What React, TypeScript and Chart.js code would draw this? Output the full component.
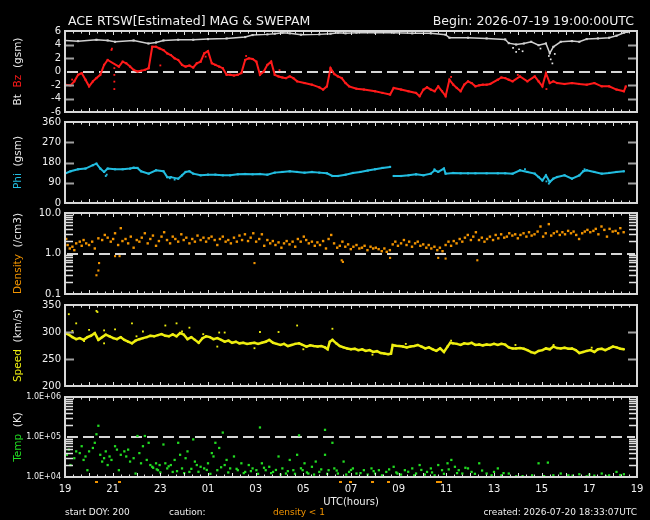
import React, { useEffect, useRef } from 'react';
import { Chart, registerables } from 'chart.js';
Chart.register(...registerables);

type P = [number, number | null];

const FONT = '"DejaVu Sans", "Liberation Sans", sans-serif';

// ---------- texts ----------
const titleText = 'ACE RTSW[Estimated] MAG & SWEPAM';
const beginText = 'Begin: 2026-07-19 19:00:00UTC';
const xTickLabels = ['19', '21', '23', '01', '03', '05', '07', '09', '11', '13', '15', '17', '19'];
const xAxisTitle = 'UTC(hours)';
const footerStart = 'start DOY: 200';
const footerCaution = 'caution:';
const footerDensity = 'density < 1';
const footerCreated = 'created: 2026-07-20 18:33:07UTC';

// ---------- tick values / labels ----------
const bTicks = [-6, -4, -2, 0, 2, 4, 6];
const phiTicks = [0, 90, 180, 270, 360];
const densityTicks = [0.1, 1, 10];
const densityTickLabels = ['0.1', '1.0', '10.0'];
const speedTicks = [200, 250, 300, 350];
const tempTicks = [1e4, 1e5, 1e6];
const tempTickLabels = ['1.0E+04', '1.0E+05', '1.0E+06'];

// ---------- data (hours since 19:00 UTC, value) ----------
const btData: P[] = [
  [0, 4.6], [0.55, 4.5], [1.32, 4.7], [1.79, 4.6], [2.1, 4.4], [2.88, 4.6], [3.5, 4.15], [3.82, 4.3],
  [4.13, 4.6], [4.75, 4.7], [5.38, 4.7], [6.0, 4.8], [6.78, 4.9], [7.56, 5.1], [7.87, 5.4], [8.49, 5.5],
  [8.8, 5.6], [9.12, 5.75], [9.43, 5.65], [9.9, 5.45], [10.67, 5.5], [11.14, 5.6], [11.45, 5.75],
  [11.77, 5.65], [12.23, 5.75], [13.01, 5.75], [13.79, 5.75], [14.57, 5.65], [15.35, 5.65], [15.97, 5.45],
  [16.13, 5.0], [16.91, 5.0], [17.69, 4.9], [18.47, 4.75], [18.62, 4.2], [18.93, 4.0], [19.25, 4.15],
  [19.56, 4.4], [19.87, 3.9], [20.18, 4.15], [20.34, 2.7], [20.49, 3.65], [20.8, 4.4], [21.27, 4.5],
  [21.58, 4.4], [21.89, 4.8], [22.36, 4.9], [22.83, 5.0], [23.14, 5.3], [23.45, 5.75], [23.61, 5.85],
];
const btDrops: P[] = [
  [18.8, 3.5], [18.93, 2.9], [19.05, 3.3], [19.2, 3.0], [19.95, 3.4], [20.3, 2.3], [20.38, 1.8],
  [20.45, 1.2], [20.55, 2.6],
];
const bzData: P[] = [
  [0, -1.95], [0.23, -2.05], [0.39, -1.46], [0.55, -0.49], [0.7, -0.24], [0.86, -1.22], [1.01, -2.2],
  [1.17, -1.46], [1.32, -0.98], [1.48, -0.49], [1.64, 0.98], [1.79, 1.71], [2.26, 0.73], [2.42, 1.46],
  [2.57, 1.22], [2.73, 0.73], [2.88, 0.24], [3.04, 0], [3.19, 0.1], [3.35, 0.24], [3.51, 0.49],
  [3.66, 3.66], [3.82, 3.66], [3.97, 3.41], [4.13, 3.17], [4.29, 2.68], [4.44, 2.44], [4.6, 1.95],
  [4.75, 1.71], [4.91, 0.98], [5.06, 0.73], [5.22, 0.88], [5.38, 0.59], [5.53, 1.22], [5.69, 1.46],
  [5.84, 2.68], [6.0, 3.02], [6.16, 1.22], [6.31, 0.98], [6.47, 0.73], [6.62, 0.49], [6.78, -0.49],
  [6.93, -0.49], [7.09, -0.59], [7.25, -0.49], [7.4, -0.24], [7.56, 1.71], [7.71, 1.95], [7.87, 1.85],
  [8.03, 1.46], [8.18, -0.49], [8.34, 0], [8.49, 0.98], [8.65, 1.46], [8.8, -0.49], [8.96, -0.73],
  [9.12, -0.88], [9.27, -0.98], [9.43, -0.73], [9.58, -0.98], [9.74, -1.46], [10.05, -1.71],
  [10.36, -1.95], [10.67, -2.34], [10.83, -2.68], [10.99, -2.2], [11.14, 0.49], [11.3, -0.39],
  [11.45, -0.73], [11.61, -0.98], [11.77, -1.71], [11.92, -2.2], [12.23, -2.54], [12.54, -2.68],
  [13.01, -2.93], [13.32, -3.17], [13.64, -3.41], [13.79, -2.44], [14.1, -2.68], [14.41, -2.93],
  [14.73, -3.17], [14.88, -3.66], [15.04, -2.68], [15.19, -2.34], [15.35, -2.68], [15.51, -2.93],
  [15.66, -2.2], [15.82, -2.93], [15.97, -3.66], [16.13, -1.22], [16.29, -1.95], [16.44, -2.44],
  [16.6, -2.93], [16.75, -1.95], [16.91, -1.46], [17.06, -1.71], [17.22, -2.2], [17.38, -2.05],
  [17.53, -1.95], [17.69, -1.95], [17.84, -1.85], [18.16, -1.22], [18.31, -0.88], [18.47, -0.98],
  [18.62, -1.22], [18.78, -1.46], [19.09, -0.73], [19.4, -1.46], [19.71, -0.73], [19.87, -1.46],
  [20.03, -2.2], [20.18, -0.24], [20.34, -1.71], [20.49, -1.46], [20.65, -1.71], [20.96, -1.85],
  [21.27, -1.71], [21.58, -1.85], [21.89, -1.95], [22.21, -1.71], [22.52, -2.2], [22.83, -2.2],
  [23.14, -2.68], [23.45, -2.93], [23.53, -2.2],
];
const bzScatter: P[] = [
  [1.95, 3.2], [1.97, 3.4], [2.07, 0.5], [2.07, -0.5], [2.07, -1.5], [2.07, -2.6], [0.3, -1.2],
  [4.0, 0.9], [5.9, 2.2], [7.6, 2.3], [9.0, 0.2], [16.2, -0.8], [20.2, -2.6], [19.0, -0.5],
];
const phiData: P[] = [
  [0, 130.5], [0.23, 141], [0.55, 150], [0.86, 153], [1.17, 168], [1.32, 175], [1.48, 153], [1.64, 138],
  [1.79, 153], [2.1, 150], [2.42, 150], [2.73, 153], [2.88, 157], [3.04, 156], [3.19, 141], [3.51, 130.5],
  [3.82, 145.5], [4.13, 141], [4.29, 115], [4.44, 115], [4.75, 108], [4.91, 123], [5.06, 138], [5.22, 141],
  [5.38, 130.5], [5.69, 123], [6.0, 126], [6.31, 126], [6.62, 123], [6.93, 123], [7.25, 127.5], [7.56, 129],
  [7.87, 127.5], [8.18, 129], [8.49, 126], [8.8, 135], [9.12, 138], [9.43, 141], [9.74, 138], [10.05, 135],
  [10.36, 138], [10.67, 135], [10.99, 132], [11.22, 120], [11.45, 120], [11.77, 126], [12.08, 133.5],
  [12.39, 138], [12.7, 144], [13.01, 150], [13.32, 156], [13.64, 160.5], [13.7, null], [13.79, 120],
  [14.1, 120], [14.41, 123], [14.73, 127.5], [15.04, 123], [15.35, 130.5], [15.51, 145.5], [15.66, 138],
  [15.9, 153], [15.97, 130.5], [16.29, 133.5], [16.6, 132], [16.91, 132], [17.22, 132], [17.69, 132],
  [18.16, 132], [18.47, 132], [18.78, 130.5], [19.09, 145.5], [19.4, 138], [19.71, 130.5], [19.87, 115.5],
  [20.03, 100.5], [20.18, 123], [20.34, 93], [20.49, 108], [20.65, 115.5], [20.96, 123], [21.27, 108],
  [21.58, 123], [21.74, 141], [21.89, 145.5], [22.21, 138], [22.52, 130.5], [22.83, 133.5], [23.14, 138],
  [23.45, 141],
];
const phiScatter: P[] = [
  [1.71, 120], [1.75, 126], [4.4, 110], [4.6, 104], [15.5, 150], [19.3, 150], [20.2, 96], [20.3, 86],
  [21.8, 150],
];
const densityData: P[] = [
  [0.05, 2.28], [0.11, 1.62], [0.2, 1.33], [0.31, 1.47], [0.39, 1.21], [0.47, 1.78], [0.62, 1.96], [0.7, 1.55],
  [0.78, 2.15], [0.89, 1.78], [1.01, 1.62], [1.14, 1.96], [1.25, 1.33], [1.4, 2.37], [1.56, 2.15], [1.67, 2.87],
  [1.79, 2.46], [1.92, 1.96], [2.02, 2.28], [2.1, 3.16], [2.23, 1.62], [2.34, 4.22], [2.41, 2.03], [2.54, 2.28],
  [2.65, 1.78], [2.76, 2.61], [2.88, 1.39], [3.01, 2.15], [3.12, 1.96], [3.22, 2.46], [3.35, 3.16], [3.47, 1.78],
  [3.58, 2.28], [3.69, 2.77], [3.82, 1.55], [3.94, 2.03], [4.05, 2.61], [4.16, 3.35], [4.28, 2.15], [4.41, 1.78],
  [4.52, 2.61], [4.63, 2.28], [4.75, 1.96], [4.88, 2.98], [4.98, 2.15], [5.09, 2.46], [5.22, 1.78], [5.34, 2.28],
  [5.45, 1.96], [5.56, 2.77], [5.69, 2.15], [5.81, 2.46], [5.92, 1.96], [6.03, 2.37], [6.15, 2.61], [6.28, 2.15],
  [6.39, 1.62], [6.5, 2.28], [6.62, 2.61], [6.74, 1.96], [6.85, 2.15], [6.96, 1.78], [7.09, 2.46], [7.21, 1.96],
  [7.32, 2.77], [7.43, 2.15], [7.55, 2.98], [7.68, 2.03], [7.79, 2.46], [7.9, 3.16], [8.02, 1.96], [8.15, 2.28],
  [8.26, 2.98], [8.36, 1.55], [8.49, 2.15], [8.61, 1.78], [8.72, 2.03], [8.83, 1.62], [8.96, 1.88], [9.08, 1.39],
  [9.19, 1.78], [9.3, 2.03], [9.42, 1.68], [9.55, 1.96], [9.66, 1.47], [9.77, 2.28], [9.89, 1.96], [10.02, 2.61],
  [10.12, 2.15], [10.23, 1.78], [10.36, 1.96], [10.48, 1.55], [10.59, 1.88], [10.7, 1.62], [10.83, 2.03],
  [10.95, 1.33], [11.06, 2.28], [11.17, 2.87], [11.29, 1.78], [11.42, 1.39], [11.53, 1.55], [11.64, 1.96],
  [11.76, 1.47], [11.88, 1.68], [11.99, 1.28], [12.1, 1.47], [12.23, 1.62], [12.35, 1.33], [12.46, 1.39],
  [12.57, 1.55], [12.69, 1.21], [12.82, 1.47], [12.93, 1.33], [13.04, 1.39], [13.16, 1.28], [13.29, 1.14],
  [13.4, 1.33], [13.5, 1.1], [13.63, 1.21], [13.75, 1.68], [13.86, 1.96], [13.97, 1.55], [14.1, 1.78],
  [14.22, 2.15], [14.33, 1.62], [14.44, 1.96], [14.56, 1.47], [14.69, 1.78], [14.8, 1.96], [14.91, 1.55],
  [15.03, 1.68], [15.16, 1.39], [15.26, 1.62], [15.37, 1.33], [15.5, 1.47], [15.62, 1.21], [15.73, 1.39],
  [15.84, 1.14], [15.97, 1.62], [16.09, 1.96], [16.2, 1.55], [16.31, 2.03], [16.43, 1.78], [16.56, 2.28],
  [16.67, 1.96], [16.78, 2.46], [16.9, 2.87], [17.03, 2.15], [17.13, 2.61], [17.24, 3.35], [17.37, 2.15],
  [17.49, 2.46], [17.6, 1.96], [17.71, 2.28], [17.83, 2.61], [17.96, 2.15], [18.07, 2.87], [18.18, 2.37],
  [18.3, 2.98], [18.43, 2.46], [18.54, 2.61], [18.64, 3.16], [18.77, 2.77], [18.89, 2.98], [19.0, 2.37],
  [19.11, 2.87], [19.24, 3.16], [19.36, 2.61], [19.47, 3.35], [19.58, 2.77], [19.7, 2.98], [19.83, 3.48],
  [19.95, 4.64], [20.06, 2.61], [20.17, 3.16], [20.3, 5.31], [20.4, 2.77], [20.51, 3.16], [20.64, 3.48],
  [20.76, 2.87], [20.87, 3.35], [20.98, 2.98], [21.11, 3.62], [21.23, 3.16], [21.34, 3.48], [21.45, 2.87],
  [21.57, 2.28], [21.7, 3.16], [21.81, 3.48], [21.92, 3.83], [22.04, 3.35], [22.17, 3.62], [22.27, 4.06],
  [22.38, 2.98], [22.51, 4.64], [22.63, 3.83], [22.74, 2.61], [22.85, 4.06], [22.98, 3.48], [23.1, 3.62],
  [23.21, 3.16], [23.3, 4.22], [23.44, 3.35],
];
const densityLow: P[] = [
  [1.32, 0.29], [1.4, 0.38], [1.43, 0.58], [2.1, 0.86], [2.29, 0.86], [7.95, 0.58], [11.61, 0.68],
  [11.66, 0.62], [13.64, 0.78], [15.66, 0.78], [15.97, 0.75], [17.3, 0.68],
];
const lowDensityHours = [1.32, 2.25, 11.53, 11.95, 12.88, 13.55, 15.6, 15.73];
const speedData: P[] = [
  [0, 298], [0.16, 295], [0.31, 290.5], [0.47, 286.7], [0.62, 288.6], [0.78, 285.4], [0.94, 290.5], [1.09, 293],
  [1.25, 298], [1.4, 285.4], [1.56, 290.5], [1.71, 295], [1.87, 292], [2.03, 288.6], [2.18, 286.7], [2.34, 290.5],
  [2.49, 285.4], [2.65, 282], [2.81, 279], [2.96, 284], [3.12, 286.7], [3.27, 288.6], [3.43, 290.5], [3.58, 293],
  [3.74, 292], [3.9, 294.3], [4.05, 296], [4.21, 293], [4.36, 292], [4.52, 295.6], [4.68, 292], [4.83, 298],
  [4.99, 295], [5.14, 286.7], [5.3, 290.5], [5.45, 285.4], [5.61, 280], [5.77, 288.6], [5.92, 292], [6.08, 290.5],
  [6.23, 286.7], [6.39, 288.6], [6.55, 285.4], [6.7, 282], [6.86, 284], [7.01, 280], [7.17, 282], [7.32, 279],
  [7.48, 280], [7.64, 278], [7.79, 279], [7.95, 280], [8.1, 278], [8.26, 280], [8.42, 282], [8.57, 285.4],
  [8.73, 280], [8.88, 278], [9.04, 276], [9.19, 278], [9.35, 274], [9.51, 276], [9.66, 278], [9.82, 279],
  [9.97, 276], [10.13, 273], [10.29, 275.3], [10.44, 274], [10.6, 273], [10.75, 274], [10.91, 271.5],
  [11.02, 268], [11.11, 282], [11.22, 285.4], [11.38, 279], [11.53, 274], [11.69, 271.5], [11.84, 269.6],
  [12.0, 268], [12.16, 269], [12.31, 266.4], [12.47, 268], [12.62, 265], [12.78, 266.4], [12.93, 263],
  [13.09, 264.5], [13.25, 261], [13.4, 260], [13.56, 259], [13.68, 260], [13.75, 276], [13.87, 274.7],
  [14.03, 274], [14.18, 273], [14.34, 271.5], [14.49, 273], [14.65, 274], [14.8, 276], [14.96, 273],
  [15.12, 269.6], [15.27, 271.5], [15.43, 268], [15.58, 265], [15.74, 269.6], [15.9, 263], [16.05, 273],
  [16.16, 280], [16.28, 279], [16.44, 278], [16.6, 276], [16.75, 279], [16.91, 278], [17.06, 280], [17.22, 276],
  [17.38, 277], [17.53, 275.3], [17.69, 277], [17.84, 276], [18.0, 278], [18.16, 276], [18.31, 278],
  [18.47, 276.6], [18.62, 271.5], [18.78, 269.6], [18.93, 269.6], [19.09, 270.2], [19.25, 269], [19.4, 266.4],
  [19.56, 262.6], [19.71, 261], [19.87, 265], [20.03, 266.4], [20.18, 269.6], [20.34, 268], [20.49, 273],
  [20.65, 270.2], [20.8, 269.6], [20.96, 270.9], [21.12, 269], [21.27, 269.6], [21.43, 266.4], [21.58, 261],
  [21.74, 263], [21.89, 265], [22.05, 266.4], [22.21, 263], [22.36, 268], [22.52, 269], [22.67, 266.4],
  [22.83, 269.6], [22.99, 273], [23.14, 271.5], [23.3, 269], [23.45, 268],
];
const speedScatter: P[] = [
  [0.16, 333], [0.31, 302], [0.47, 316], [0.8, 283], [1.01, 304], [1.32, 339], [1.36, 337], [1.64, 303],
  [1.64, 279], [2.1, 305], [2.81, 316], [3.0, 292], [3.27, 301], [4.21, 312], [4.68, 316], [4.91, 301],
  [5.22, 308], [5.8, 296], [6.39, 273], [6.47, 299], [6.7, 299], [7.95, 270], [8.18, 300], [8.96, 300],
  [9.74, 312], [10.0, 268], [11.22, 306], [12.9, 258], [14.3, 278], [16.2, 284], [18.9, 276], [20.5, 276],
  [22.1, 271],
];
const tempData: P[] = [
  [0.08, 35900], [0.16, 48300], [0.23, 19900], [0.39, 29500], [0.47, 43700], [0.62, 39600], [0.7, 58800],
  [0.78, 26700], [0.86, 32600], [0.94, 14800], [1.01, 43700], [1.17, 53200], [1.25, 71600], [1.32, 117000],
  [1.4, 191000], [1.48, 35900], [1.56, 24300], [1.64, 29500], [1.71, 43700], [1.79, 19900], [1.87, 32600],
  [1.95, 26700], [2.1, 58800], [2.18, 48300], [2.26, 14800], [2.34, 35900], [2.49, 43700], [2.57, 32600],
  [2.65, 48300], [2.73, 24300], [2.88, 29500], [2.96, 12200], [3.04, 106000], [3.12, 39600], [3.19, 22000],
  [3.27, 58800], [3.35, 106000], [3.43, 26700], [3.51, 71600], [3.58, 19900], [3.66, 18000], [3.82, 22000],
  [3.9, 14800], [3.97, 19900], [4.13, 64900], [4.21, 22000], [4.29, 16400], [4.44, 19900], [4.52, 13400],
  [4.6, 26700], [4.75, 71600], [4.83, 35900], [4.91, 16400], [5.06, 29500], [5.14, 43700], [5.22, 13400],
  [5.38, 87000], [5.45, 24300], [5.53, 19900], [5.69, 18000], [5.84, 16400], [6.0, 22000], [6.16, 39600],
  [6.23, 32600], [6.31, 71600], [6.39, 14800], [6.47, 53200], [6.62, 129000], [6.7, 19900], [6.78, 26700],
  [6.93, 16400], [7.09, 32600], [7.25, 14800], [7.4, 22000], [7.56, 13400], [7.71, 19900], [7.87, 16400],
  [8.03, 14800], [8.18, 173000], [8.26, 22000], [8.42, 14800], [8.57, 18000], [8.73, 13400], [8.96, 32600],
  [9.12, 16400], [9.27, 12200], [9.43, 26700], [9.58, 14800], [9.74, 35900], [9.82, 110000], [9.97, 14800],
  [10.05, 22000], [10.21, 12200], [10.36, 18000], [10.52, 24300], [10.67, 13400], [10.91, 151000],
  [10.91, 35900], [11.06, 14800], [11.22, 71600], [11.3, 16400], [11.45, 12200], [11.69, 24300],
  [11.92, 13400], [12.08, 16400], [12.23, 12200], [12.54, 14800], [12.86, 16400], [13.01, 12200],
  [13.17, 14800], [13.48, 13400], [13.79, 18000], [13.95, 12200], [14.26, 14800], [14.57, 16400],
  [14.73, 12200], [14.88, 19900], [15.19, 13400], [15.35, 16400], [15.51, 11000], [15.66, 19900],
  [15.82, 14800], [16.05, 22000], [16.21, 26700], [16.36, 18000], [16.52, 14800], [16.67, 12200],
  [16.91, 16400], [17.06, 13400], [17.38, 22000], [17.69, 12200], [18.0, 13400], [18.16, 16400],
  [18.31, 11000], [18.62, 12200], [18.93, 10400], [19.87, 22000], [20.26, 22900], [20.49, 11000],
  [20.8, 12200], [21.12, 11000], [21.58, 11700], [21.89, 10400], [22.21, 10800], [22.52, 12200],
  [22.83, 11000], [23.14, 13400], [23.45, 11700],
  [3.7, 17000], [3.85, 15500], [4.0, 13000], [4.35, 18500], [4.7, 14000], [5.0, 12500], [5.3, 16000],
  [5.6, 13500], [5.95, 15000], [6.1, 12000], [6.55, 17500], [6.85, 13000], [7.2, 16000], [7.5, 12500],
  [7.8, 14000], [8.1, 12000], [8.35, 17000], [8.65, 12500], [8.85, 15000], [9.05, 11500], [9.35, 14000],
  [9.65, 12000], [9.9, 16500], [10.15, 13000], [10.45, 11500], [10.75, 15500], [11.0, 12000], [11.4, 14500],
  [11.8, 11500], [12.0, 15000], [12.4, 12500], [12.7, 11500], [12.95, 14000], [13.3, 11000], [13.6, 15500],
  [13.9, 13000], [14.1, 11500], [14.4, 13500], [14.65, 11000], [14.95, 15000], [15.1, 11500], [15.4, 13000],
  [15.9, 12000], [16.1, 15500], [16.45, 12500], [16.8, 17000], [17.2, 12000], [17.5, 14500], [17.9, 11000],
  [18.4, 12500], [19.2, 10500], [19.6, 11000], [20.1, 10500], [21.3, 10800], [22.0, 11500], [22.7, 10600],
  [23.3, 11200],
];

// ---------- colours ----------
const WHITE = '#e8e8e8';
const RED = '#ff1a1a';
const CYAN = '#22bde0';
const ORANGE = '#f29400';
const YELLOW = '#eeee10';
const GREEN = '#22dd22';

// ---------- helpers ----------
const toXY = (arr: P[]) => arr.map(([x, y]) => ({ x, y }));
const lineDs = (arr: P[], color: string, w = 2) => ({
  data: toXY(arr), showLine: true, borderColor: color, backgroundColor: color, borderWidth: w,
  pointRadius: 1.5, pointStyle: 'rect', pointBorderWidth: 0, tension: 0, spanGaps: false,
});
const dotDs = (arr: P[], color: string, r = 1.3) => ({
  data: toXY(arr), showLine: false, borderColor: color, backgroundColor: color, borderWidth: 0,
  pointRadius: r, pointStyle: 'rect', pointBorderWidth: 0,
});

type Seg = { text: string; color: string };
type TextItem = { text: string; x: number; y: number; color: string; size: number; align: CanvasTextAlign };
interface PanelSpec {
  key: string;
  canvasTop: number;
  canvasH: number;
  padTop: number;
  padBottom: number;
  showX: boolean;
  yType: 'linear' | 'logarithmic';
  yMin: number;
  yMax: number;
  ticks: number[];
  labels: string[];
  labelSize: number;
  titleSegs: Seg[];
  datasets: any[];
  dashAt?: number;
  texts?: TextItem[];
  lowMarks?: number[];
}

function labelFor(spec: PanelSpec, v: number): string {
  for (let i = 0; i < spec.ticks.length; i++) {
    const t = spec.ticks[i];
    if (Math.abs(v - t) <= Math.abs(t) * 1e-6 + 1e-9) return spec.labels[i];
  }
  return '';
}

function makeDecor(spec: PanelSpec) {
  return {
    id: 'decor_' + spec.key,
    beforeDatasetsDraw(chart: any) {
      if (spec.dashAt === undefined) return;
      const { ctx, chartArea: a, scales } = chart;
      const y = Math.round(scales.y.getPixelForValue(spec.dashAt));
      ctx.save();
      ctx.strokeStyle = '#d6d6d6';
      ctx.lineWidth = 2;
      ctx.setLineDash([11, 5]);
      ctx.beginPath();
      ctx.moveTo(a.left + 2, y);
      ctx.lineTo(a.right - 2, y);
      ctx.stroke();
      ctx.restore();
    },
    afterDraw(chart: any) {
      const { ctx, chartArea: a, scales } = chart;
      const ys = scales.y;
      const xs = scales.x;
      ctx.save();
      const yTick = (v: number, len: number, color: string, w: number) => {
        const y = Math.round(ys.getPixelForValue(v)) + 0.5;
        ctx.strokeStyle = color;
        ctx.lineWidth = w;
        ctx.beginPath();
        ctx.moveTo(a.left, y); ctx.lineTo(a.left + len, y);
        ctx.moveTo(a.right, y); ctx.lineTo(a.right - len, y);
        ctx.stroke();
      };
      for (const v of spec.ticks) {
        if (v > spec.yMin && v < spec.yMax && v !== spec.dashAt) yTick(v, 9, '#a0a0a0', 2);
      }
      if (spec.yType === 'logarithmic') {
        const e0 = Math.round(Math.log10(spec.yMin));
        const e1 = Math.round(Math.log10(spec.yMax));
        for (let e = e0; e < e1; e++) {
          for (let m = 2; m <= 9; m++) yTick(m * Math.pow(10, e), 8, '#e0e0e0', 1.5);
        }
      }
      // small ticks on top & bottom edges
      ctx.strokeStyle = '#e0e0e0';
      ctx.lineWidth = 1;
      for (let m = 20; m < 24 * 60; m += 20) {
        const x = Math.round(xs.getPixelForValue(m / 60)) + 0.5;
        const len = m % 60 === 0 ? 4 : 2.5;
        ctx.beginPath();
        ctx.moveTo(x, a.top); ctx.lineTo(x, a.top + len);
        ctx.moveTo(x, a.bottom); ctx.lineTo(x, a.bottom - len);
        ctx.stroke();
      }
      // frame
      ctx.strokeStyle = '#d8d8d8';
      ctx.lineWidth = 2;
      ctx.strokeRect(a.left, a.top, a.right - a.left, a.bottom - a.top);
      // rotated y-axis title in several colours
      ctx.save();
      ctx.translate(18, (a.top + a.bottom) / 2);
      ctx.rotate(-Math.PI / 2);
      ctx.font = `10.5px ${FONT}`;
      ctx.textBaseline = 'middle';
      ctx.textAlign = 'left';
      const total = spec.titleSegs.reduce((s, g) => s + ctx.measureText(g.text).width, 0);
      let tx = -total / 2;
      for (const g of spec.titleSegs) {
        ctx.fillStyle = g.color;
        ctx.fillText(g.text, tx, 0);
        tx += ctx.measureText(g.text).width;
      }
      ctx.restore();
      // free texts (page coordinates)
      for (const t of spec.texts || []) {
        ctx.font = `${t.size}px ${FONT}`;
        ctx.fillStyle = t.color;
        ctx.textAlign = t.align;
        ctx.textBaseline = 'alphabetic';
        ctx.fillText(t.text, t.x, t.y - spec.canvasTop);
      }
      // density < 1 markers under the time axis
      if (spec.lowMarks) {
        ctx.fillStyle = ORANGE;
        for (const h of spec.lowMarks) {
          const x = xs.getPixelForValue(h);
          ctx.fillRect(Math.round(x) - 1, a.bottom + 4, 3, 2);
        }
      }
      ctx.restore();
    },
  };
}

function buildConfig(spec: PanelSpec): any {
  const xScale: any = {
    type: 'linear',
    min: 0,
    max: 24,
    display: spec.showX,
    grid: { display: false, drawTicks: false },
    border: { display: false },
    ticks: {
      stepSize: 2,
      autoSkip: false,
      maxRotation: 0,
      padding: 6,
      color: '#f0f0f0',
      font: { family: FONT, size: 10 },
      callback: (_v: any, i: number) => xTickLabels[i] ?? '',
    },
  };
  if (spec.showX) xScale.afterFit = (s: any) => { s.height = 43; };
  return {
    type: 'scatter',
    data: { datasets: spec.datasets },
    options: {
      responsive: false,
      maintainAspectRatio: false,
      animation: false,
      devicePixelRatio: 1,
      events: [],
      layout: { padding: { top: spec.padTop, bottom: spec.padBottom, left: 0, right: 13 } },
      plugins: { legend: { display: false }, tooltip: { enabled: false } },
      scales: {
        x: xScale,
        y: {
          type: spec.yType,
          min: spec.yMin,
          max: spec.yMax,
          grid: { display: false, drawTicks: false },
          border: { display: false },
          ticks: {
            autoSkip: false,
            padding: 4,
            color: '#f0f0f0',
            font: { family: FONT, size: spec.labelSize },
            ...(spec.yType === 'linear' ? { stepSize: spec.ticks[1] - spec.ticks[0] } : {}),
            callback: (v: any) => labelFor(spec, Number(v)),
          },
          afterFit: (s: any) => { s.width = 65; },
        },
      },
    },
    plugins: [makeDecor(spec)],
  };
}

function Panel({ spec }: { spec: PanelSpec }) {
  const ref = useRef<HTMLCanvasElement>(null);
  useEffect(() => {
    if (!ref.current) return;
    const chart = new Chart(ref.current, buildConfig(spec));
    return () => chart.destroy();
  }, [spec]);
  return (
    <canvas
      ref={ref}
      width={650}
      height={spec.canvasH}
      style={{ position: 'absolute', left: 0, top: spec.canvasTop, width: 650, height: spec.canvasH }}
    />
  );
}

const panels: PanelSpec[] = [
  {
    key: 'mag', canvasTop: 0, canvasH: 122, padTop: 31, padBottom: 10, showX: false,
    yType: 'linear', yMin: -6, yMax: 6, ticks: bTicks, labels: bTicks.map(String), labelSize: 10,
    titleSegs: [{ text: 'Bt  ', color: WHITE }, { text: 'Bz', color: RED }, { text: '  (gsm)', color: WHITE }],
    datasets: [
      lineDs(btData, '#cfcfcf', 1.5), dotDs(btDrops, WHITE, 1.2),
      lineDs(bzData, RED, 2), dotDs(bzScatter, RED, 1.3),
    ],
    dashAt: 0,
    texts: [
      { text: titleText, x: 68, y: 25, color: '#f0f0f0', size: 12.5, align: 'left' },
      { text: beginText, x: 634, y: 25, color: '#f0f0f0', size: 12.5, align: 'right' },
    ],
  },
  {
    key: 'phi', canvasTop: 112, canvasH: 101, padTop: 10, padBottom: 10, showX: false,
    yType: 'linear', yMin: 0, yMax: 360, ticks: phiTicks, labels: phiTicks.map(String), labelSize: 10,
    titleSegs: [{ text: 'Phi', color: CYAN }, { text: '  (gsm)', color: WHITE }],
    datasets: [lineDs(phiData, CYAN, 2), dotDs(phiScatter, CYAN, 1.3)],
  },
  {
    key: 'dens', canvasTop: 203, canvasH: 101, padTop: 10, padBottom: 10, showX: false,
    yType: 'logarithmic', yMin: 0.1, yMax: 10, ticks: densityTicks, labels: densityTickLabels, labelSize: 10,
    titleSegs: [{ text: 'Density', color: ORANGE }, { text: '  (/cm3)', color: WHITE }],
    datasets: [dotDs(densityData, ORANGE, 1.7), dotDs(densityLow, ORANGE, 1.5)],
    dashAt: 1,
  },
  {
    key: 'speed', canvasTop: 295, canvasH: 101, padTop: 10, padBottom: 10, showX: false,
    yType: 'linear', yMin: 200, yMax: 350, ticks: speedTicks, labels: speedTicks.map(String), labelSize: 10,
    titleSegs: [{ text: 'Speed', color: YELLOW }, { text: '  (km/s)', color: WHITE }],
    datasets: [lineDs(speedData, YELLOW, 2.5), dotDs(speedScatter, YELLOW, 1.3)],
  },
  {
    key: 'temp', canvasTop: 387, canvasH: 133, padTop: 10, padBottom: 0, showX: true,
    yType: 'logarithmic', yMin: 1e4, yMax: 1e6, ticks: tempTicks, labels: tempTickLabels, labelSize: 8,
    titleSegs: [{ text: 'Temp', color: GREEN }, { text: '  (K)', color: WHITE }],
    datasets: [dotDs(tempData, GREEN, 1.6)],
    dashAt: 1e5,
    lowMarks: lowDensityHours,
    texts: [
      { text: xAxisTitle, x: 351, y: 505, color: '#f0f0f0', size: 10, align: 'center' },
      { text: footerStart, x: 65, y: 515, color: '#f0f0f0', size: 9, align: 'left' },
      { text: footerCaution, x: 169, y: 515, color: '#f0f0f0', size: 9, align: 'left' },
      { text: footerDensity, x: 273, y: 515, color: ORANGE, size: 9, align: 'left' },
      { text: footerCreated, x: 637, y: 515, color: '#f0f0f0', size: 9, align: 'right' },
    ],
  },
];

export default function App() {
  return (
    <div style={{ position: 'fixed', left: 0, top: 0, width: 650, height: 520, background: '#000', overflow: 'hidden' }}>
      {panels.map((p) => (
        <Panel key={p.key} spec={p} />
      ))}
    </div>
  );
}
